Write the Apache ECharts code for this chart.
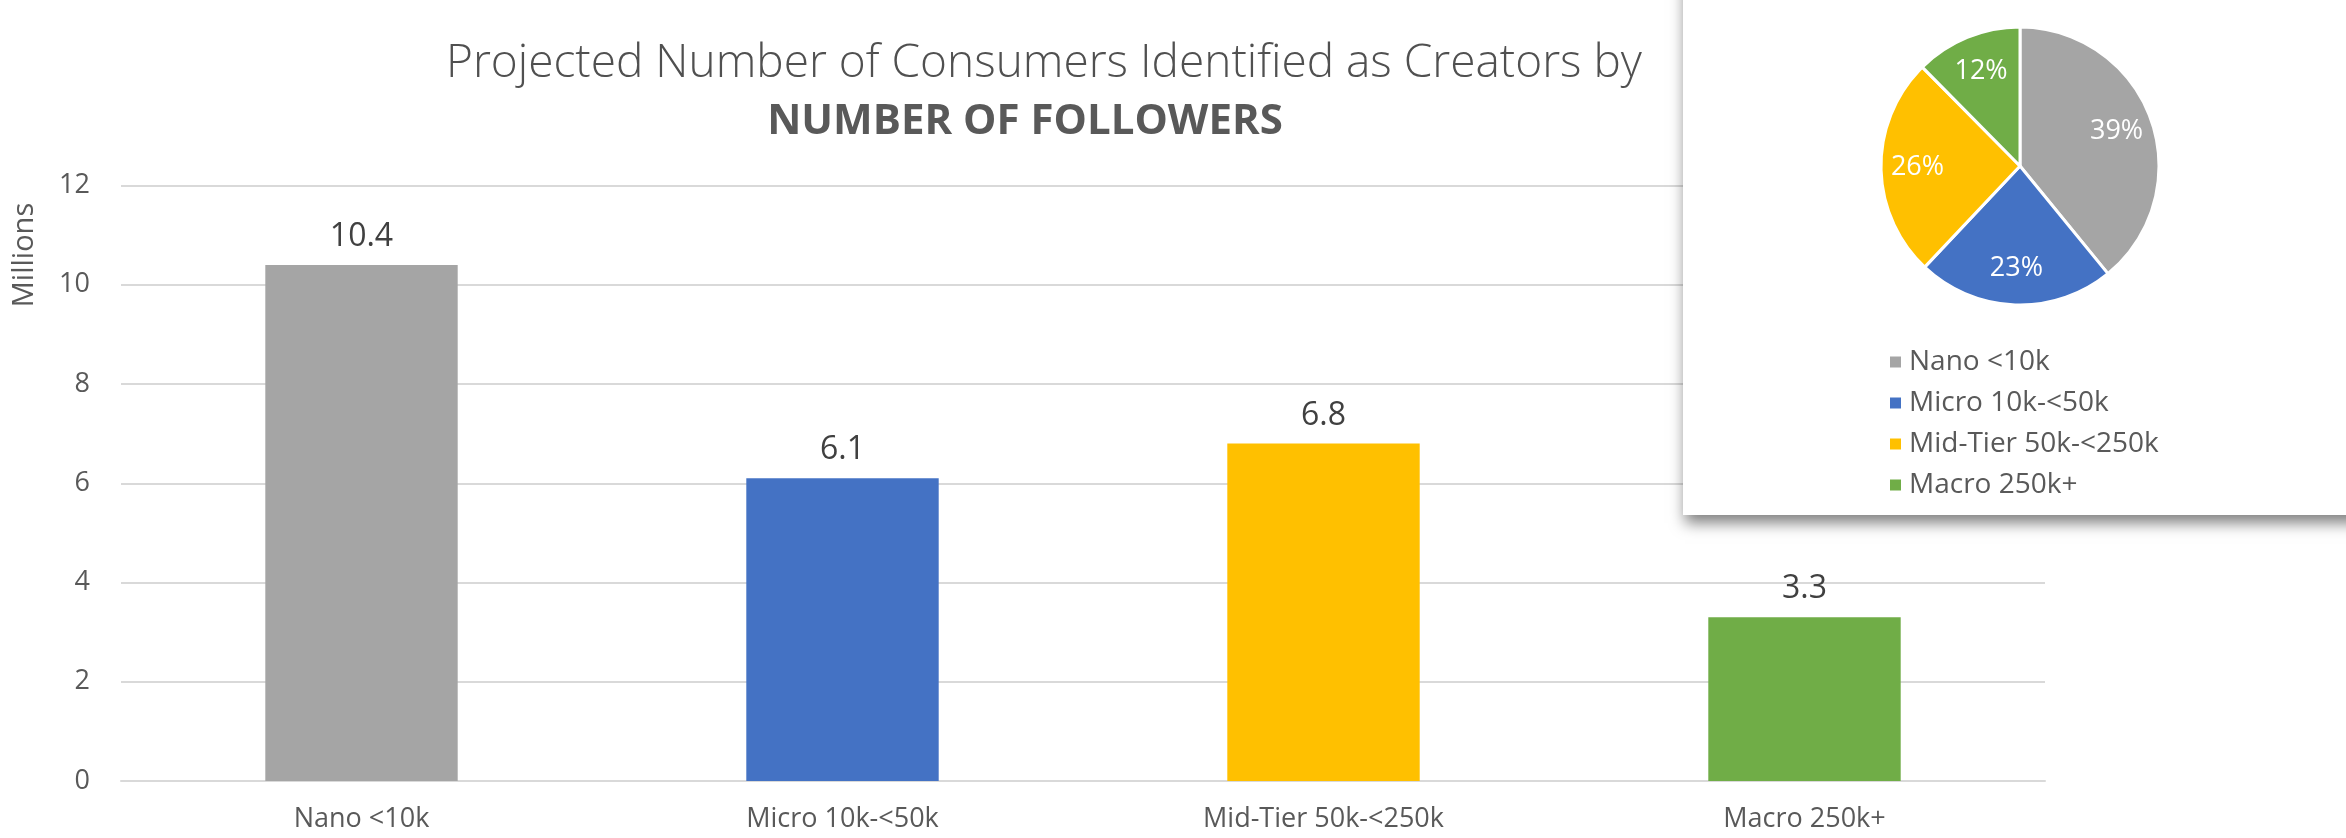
<!DOCTYPE html>
<html>
<head>
<meta charset="utf-8">
<script src="https://cdn.jsdelivr.net/npm/echarts@6/dist/echarts.min.js"></script>
<style>
  html, body { margin: 0; padding: 0; background: #ffffff; }
  #chart { width: 2346px; height: 838px; }
</style>
</head>
<body>
<div id="chart"></div>
<script>
// Creators by follower tier, in millions
const categories = ['Nano <10k', 'Micro 10k-<50k', 'Mid-Tier 50k-<250k', 'Macro 250k+'];
const creatorsMillions = [10.4, 6.1, 6.8, 3.3];
const tierColors = ['#A5A5A5', '#4472C4', '#FFC000', '#70AD47'];

const titleLine1 = 'Projected Number of Consumers Identified as Creators by';
const titleLine2 = 'NUMBER OF FOLLOWERS';
const axisName = 'Millions';

const FONT = '"Open Sans", "Noto Sans", sans-serif';
const TEXT = '#595959';

const pieData = categories.map((name, i) => ({
  name,
  value: creatorsMillions[i],
  itemStyle: { color: tierColors[i] }
}));

const chart = echarts.init(document.getElementById('chart'), null, { renderer: 'canvas' });

chart.setOption({
  backgroundColor: '#ffffff',
  animation: false,
  title: [
    {
      text: titleLine1,
      left: 1044, top: 41, textAlign: 'center', padding: 0,
      textStyle: { fontFamily: FONT, fontSize: 46, fontWeight: 300, color: '#505050' }
    },
    {
      text: titleLine2,
      left: 1025, top: 101, textAlign: 'center', padding: 0,
      textStyle: { fontFamily: FONT, fontSize: 42, fontWeight: 'bold', color: TEXT }
    }
  ],
  grid: { left: 121, right: 301, top: 185.5, bottom: 57, containLabel: false },
  xAxis: {
    type: 'category',
    data: categories,
    axisLine: { lineStyle: { color: '#d9d9d9', width: 2 } },
    axisTick: { show: false },
    axisLabel: { fontFamily: FONT, fontSize: 27, color: TEXT, margin: 25 }
  },
  yAxis: {
    type: 'value',
    min: 0, max: 12, interval: 2,
    axisLine: { show: false },
    axisTick: { show: false },
    splitLine: { lineStyle: { color: '#d9d9d9', width: 2 } },
    axisLabel: { fontFamily: FONT, fontSize: 27, color: TEXT, margin: 31 }
  },
  legend: {
    orient: 'vertical',
    left: 1888, top: 348,
    padding: 0,
    itemWidth: 13, itemHeight: 13, itemGap: 13,
    icon: 'rect',
    z: 20,
    data: categories,
    textStyle: { fontFamily: FONT, fontSize: 28, color: TEXT, padding: [0, 0, 0, 2] }
  },
  graphic: [
    {
      type: 'rect',
      z: 5,
      shape: { x: 1683, y: -30, width: 720, height: 545 },
      style: {
        fill: '#ffffff',
        shadowBlur: 14,
        shadowOffsetX: 2,
        shadowOffsetY: 8,
        shadowColor: 'rgba(0,0,0,0.5)'
      }
    },
    {
      type: 'text',
      x: 25, y: 255,
      rotation: Math.PI / 2,
      style: {
        text: axisName,
        fontFamily: FONT, fontSize: 29, fill: TEXT,
        align: 'center', verticalAlign: 'middle'
      }
    }
  ],
  series: [
    {
      type: 'bar',
      data: creatorsMillions.map((v, i) => ({ value: v, itemStyle: { color: tierColors[i] } })),
      barWidth: '40%',
      label: {
        show: true, position: 'top', distance: 12,
        fontFamily: FONT, fontSize: 32, color: '#404040',
        formatter: p => p.value.toFixed(1)
      }
    },
    {
      // share of the total, drawn as slices
      type: 'pie',
      z: 10,
      center: [2020, 166],
      radius: [0, 139],
      startAngle: 90,
      clockwise: true,
      silent: true,
      data: pieData,
      itemStyle: { borderColor: '#ffffff', borderWidth: 3 },
      label: { show: false },
      labelLine: { show: false }
    },
    {
      // percentage labels placed toward the outer rim of each slice
      type: 'pie',
      z: 11,
      center: [2020, 166],
      radius: [60, 139],
      startAngle: 90,
      clockwise: true,
      silent: true,
      data: pieData.map(d => ({ name: d.name, value: d.value })),
      itemStyle: { color: 'rgba(0,0,0,0)' },
      label: {
        show: true, position: 'inside',
        fontFamily: FONT, fontSize: 27, color: '#ffffff',
        formatter: p => Math.round(p.percent) + '%'
      },
      labelLine: { show: false }
    }
  ]
});
</script>
</body>
</html>
